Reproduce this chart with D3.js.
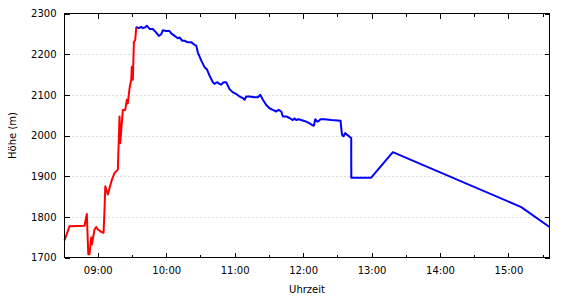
<!DOCTYPE html>
<html><head><meta charset="utf-8">
<script src="https://cdn.jsdelivr.net/npm/d3@7"></script>
<style>
body{margin:0;background:#fff}
svg{display:block}
text{font-family:"DejaVu Sans",sans-serif;font-size:10px;fill:#000}
</style></head><body>
<script>
// Ascent (red) and descent (blue) track: clock time, altitude in m
const redTimes = ["08:30:50","08:35:15","08:48:25","08:50:25","08:51:40","08:52:45","08:54:15","08:54:50","08:57:10","08:58:40","09:00:05","09:03:05","09:05:05","09:05:55","09:06:35","09:08:50","09:12:20","09:14:45","09:17:35","09:19:05","09:19:40","09:22:00","09:24:05","09:25:30","09:26:20","09:27:50","09:29:20","09:29:50","09:30:45","09:31:40","09:32:50","09:33:45"];
const redElev  = [1742,1777,1778,1807,1708,1708,1749,1732,1769,1775,1769,1763,1761,1818,1875,1855,1891,1908,1916,2047,1981,2063,2063,2088,2079,2116,2137,2169,2137,2230,2235,2267];
const blueTimes = ["09:33:45","09:36:00","09:38:05","09:39:30","09:41:35","09:43:00","09:45:25","09:48:15","09:51:15","09:53:30","09:55:40","09:57:05","10:00:00","10:02:55","10:04:25","10:07:20","10:10:10","10:11:40","10:14:05","10:16:05","10:19:00","10:22:00","10:24:50","10:26:20","10:27:45","10:30:45","10:33:35","10:35:35","10:38:00","10:40:55","10:42:20","10:44:25","10:46:45","10:48:15","10:50:15","10:52:35","10:55:30","10:58:25","11:01:25","11:04:15","11:07:10","11:08:40","11:10:10","11:13:05","11:17:25","11:20:20","11:22:25","11:24:45","11:27:40","11:30:35","11:33:30","11:36:25","11:38:30","11:40:50","11:42:15","11:45:15","11:48:05","11:51:00","11:52:30","11:54:00","11:56:00","11:59:45","12:02:45","12:05:40","12:07:40","12:09:25","12:10:40","12:12:25","12:13:50","12:15:15","12:18:45","12:24:40","12:32:50","12:34:05","12:35:25","12:36:55","12:38:20","12:39:50","12:42:10","12:42:15","12:59:30","13:18:40","15:11:15","15:36:00"];
const blueElev  = [2267,2264,2267,2264,2266,2270,2262,2262,2253,2245,2249,2259,2257,2257,2251,2245,2239,2241,2233,2233,2229,2229,2223,2221,2204,2184,2168,2163,2147,2131,2127,2131,2127,2125,2131,2131,2114,2106,2102,2096,2092,2088,2096,2096,2094,2094,2100,2088,2075,2067,2063,2059,2063,2059,2047,2047,2043,2038,2042,2038,2040,2037,2034,2030,2026,2024,2040,2034,2036,2040,2040,2038,2036,2002,1998,2006,2002,1999,1994,1896,1896,1959,1824,1775];
const yTicks = [1700,1800,1900,2000,2100,2200,2300];
const yGrid = [1800,1900,2000,2100,2200];
const xTickLabels = ["09:00","10:00","11:00","12:00","13:00","14:00","15:00"];
const xMinorLabels = ["09:30","10:30","11:30","12:30","13:30","14:30","15:30"];

const W=570,H=300;
const L=64.5,R=549.5,T=13.5,B=257.5;
const parse=d3.timeParse("%H:%M:%S");
const parseHM=d3.timeParse("%H:%M");
const red=redTimes.map((t,i)=>({t:parse(t),v:redElev[i]}));
const blue=blueTimes.map((t,i)=>({t:parse(t),v:blueElev[i]}));
const x=d3.scaleTime().domain(d3.extent(red.concat(blue),d=>d.t)).range([L,R]);
const y=d3.scaleLinear().domain([1700,2300]).range([B,T]);

const svg=d3.select("body").append("svg").attr("width",W).attr("height",H);

// grid
svg.append("g").selectAll("line").data(yGrid).join("line")
  .attr("x1",L).attr("x2",R).attr("y1",d=>Math.round(y(d))+0.5).attr("y2",d=>Math.round(y(d))+0.5)
  .attr("stroke","#b4b4b4").attr("stroke-width",1).attr("stroke-dasharray","1,3");

const majors=xTickLabels.map(parseHM), minors=xMinorLabels.map(parseHM).filter(d=>d<=x.domain()[1]);
function styleAxis(g){g.select(".domain").remove();g.selectAll(".tick line").attr("stroke","#000").attr("shape-rendering","crispEdges");g.selectAll("text").attr("fill","#000").style("font-family",'"DejaVu Sans",sans-serif').style("font-size","10px");}

svg.append("g").attr("transform",`translate(0,${B})`)
  .call(d3.axisBottom(x).tickValues(majors).tickFormat(d3.timeFormat("%H:%M")).tickSizeInner(-5).tickSizeOuter(0).tickPadding(9)).call(styleAxis);
svg.append("g").attr("transform",`translate(0,${B})`)
  .call(d3.axisBottom(x).tickValues(minors).tickFormat("").tickSizeInner(-3).tickSizeOuter(0)).call(styleAxis);
svg.append("g").attr("transform",`translate(0,${T})`)
  .call(d3.axisTop(x).tickValues(majors).tickFormat("").tickSizeInner(-5).tickSizeOuter(0)).call(styleAxis);
svg.append("g").attr("transform",`translate(0,${T})`)
  .call(d3.axisTop(x).tickValues(minors).tickFormat("").tickSizeInner(-3).tickSizeOuter(0)).call(styleAxis);
svg.append("g").attr("transform",`translate(${L},0)`)
  .call(d3.axisLeft(y).tickValues(yTicks).tickFormat(d3.format("d")).tickSizeInner(-5).tickSizeOuter(0).tickPadding(8)).call(styleAxis);
svg.append("g").attr("transform",`translate(${R},0)`)
  .call(d3.axisRight(y).tickValues(yTicks).tickFormat("").tickSizeInner(-5).tickSizeOuter(0)).call(styleAxis);

// lines
const line=d3.line().x(d=>x(d.t)).y(d=>y(d.v));
svg.append("path").datum(red).attr("d",line).attr("fill","none").attr("stroke","#ff0000").attr("stroke-width",2).attr("stroke-linejoin","round");
svg.append("path").datum(blue).attr("d",line).attr("fill","none").attr("stroke","#0000ff").attr("stroke-width",2).attr("stroke-linejoin","round");

// frame
svg.append("rect").attr("x",L).attr("y",T).attr("width",R-L).attr("height",B-T)
  .attr("fill","none").attr("stroke","#000").attr("stroke-width",1);

// axis titles
svg.append("text").attr("x",(L+R)/2).attr("y",293).attr("text-anchor","middle").text("Uhrzeit");
svg.append("text").attr("transform",`translate(16,${(T+B)/2}) rotate(-90)`).attr("text-anchor","middle").text("Höhe (m)");
</script>
</body></html>
